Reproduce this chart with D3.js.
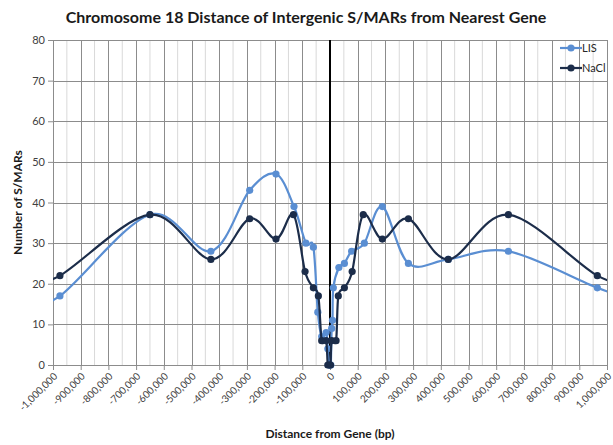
<!DOCTYPE html>
<html><head><meta charset="utf-8">
<script src="https://cdn.jsdelivr.net/npm/d3@7"></script>
<style>body{margin:0;background:#fff}svg{display:block}</style>
</head><body>
<svg id="c" width="613" height="445"></svg>
<script>
const seriesNames = ["LIS", "NaCl"];
const lisX = [-1100000,-975000,-650000,-430000,-290000,-195000,-130000,-87000,-60000,-44000,-30000,-14000,-8000,-3000,0,3000,6000,9000,12000,32000,52000,78000,124000,189000,283000,427000,644000,965000,1100000];
const lisY = [15,17,37,28,43,47,39,30,29,13,7,8,4,0,0,0,9,11,19,24,25,28,30,39,25,26,28,19,16];
const naclX = [-1100000,-975000,-650000,-430000,-290000,-195000,-132000,-90000,-60000,-42000,-30000,-14000,-8000,-2000,2000,6000,22000,30000,52000,80000,120000,189000,283000,427000,644000,965000,1100000];
const naclY = [20,22,37,26,36,31,37,23,19,17,6,6,0,0,0,6,6,17,19,23,37,31,36,26,37,22,20];
const xTicks = [-1000000,-900000,-800000,-700000,-600000,-500000,-400000,-300000,-200000,-100000,0,100000,200000,300000,400000,500000,600000,700000,800000,900000,1000000];
const xTickLabels = ["-1,000,000","-900,000","-800,000","-700,000","-600,000","-500,000","-400,000","-300,000","-200,000","-100,000","0","100,000","200,000","300,000","400,000","500,000","600,000","700,000","800,000","900,000","1,000,000"];
const yTicks = [0,10,20,30,40,50,60,70,80];
const colors = {LIS:"#5A8ED2", NaCl:"#1C2D4A"};

const W=613,H=445, m={l:53,r:6,t:40,b:80};
const svg=d3.select("#c");
const x=d3.scaleLinear().domain([-1000000,1000000]).range([m.l,W-m.r]);
const y=d3.scaleLinear().domain([0,80]).range([H-m.b,m.t]);
const font="Lato, 'Open Sans', sans-serif";

// minor vertical grid
const minor=d3.range(-950000,1000000,100000);
svg.append("g").selectAll("line").data(minor).join("line")
  .attr("x1",d=>x(d)).attr("x2",d=>x(d)).attr("y1",y(0)).attr("y2",y(80))
  .attr("stroke","#D9D9D9").attr("stroke-width",1);
// major vertical grid
svg.append("g").selectAll("line").data(xTicks).join("line")
  .attr("x1",d=>Math.round(x(d))+0.5).attr("x2",d=>Math.round(x(d))+0.5).attr("y1",y(0)).attr("y2",y(80))
  .attr("stroke","#8C8C8C").attr("stroke-width",1);
// horizontal grid
svg.append("g").selectAll("line").data(yTicks).join("line")
  .attr("x1",x(-1000000)).attr("x2",x(1000000)).attr("y1",d=>Math.round(y(d))+0.5).attr("y2",d=>Math.round(y(d))+0.5)
  .attr("stroke","#8C8C8C").attr("stroke-width",1);

// axes
const xa=svg.append("g").attr("transform",`translate(0,${y(0)})`)
  .call(d3.axisBottom(x).tickValues(xTicks).tickSize(5).tickFormat(""));
xa.select(".domain").attr("stroke","#8C8C8C");
xa.selectAll(".tick line").attr("stroke","#8C8C8C");
svg.append("g").selectAll("text").data(xTicks).join("text")
  .attr("transform",(d)=>`translate(${x(d)+5},${y(0)+12}) rotate(-45)`)
  .attr("text-anchor","end").attr("font-family",font).attr("font-size",10).attr("fill","#404040")
  .text((d,i)=>xTickLabels[i]);

const ya=svg.append("g").attr("transform",`translate(${x(-1000000)},0)`)
  .call(d3.axisLeft(y).tickValues(yTicks).tickSize(5));
ya.select(".domain").attr("stroke","#8C8C8C");
ya.selectAll(".tick line").attr("stroke","#8C8C8C");
ya.selectAll(".tick text").attr("font-family",font).attr("font-size",11).attr("fill","#404040").attr("x",-8);

// zero line
svg.append("line").attr("x1",x(0)).attr("x2",x(0)).attr("y1",y(0)).attr("y2",y(80))
  .attr("stroke","#000").attr("stroke-width",2);

// clip
svg.append("clipPath").attr("id","clip").append("rect")
  .attr("x",x(-1000000)).attr("y",m.t-10).attr("width",x(1000000)-x(-1000000)).attr("height",y(0)-m.t+20);

const line=d3.line().x(d=>x(d[0])).y(d=>y(d[1])).curve(d3.curveCardinal.tension(0));
const series=[{name:"LIS",xs:lisX,ys:lisY},{name:"NaCl",xs:naclX,ys:naclY}];
const plot=svg.append("g").attr("clip-path","url(#clip)");
series.forEach(s=>{
  const pts=s.xs.map((v,i)=>[v,s.ys[i]]);
  plot.append("path").datum(pts).attr("d",line).attr("fill","none")
    .attr("stroke",colors[s.name]).attr("stroke-width",2.2);
  plot.append("g").selectAll("circle").data(pts).join("circle")
    .attr("cx",d=>x(d[0])).attr("cy",d=>y(d[1])).attr("r",3.6).attr("fill",colors[s.name]);
});

// legend
const lg=svg.append("g");
series.forEach((s,i)=>{
  const yy=48+i*20;
  lg.append("line").attr("x1",560).attr("x2",582).attr("y1",yy).attr("y2",yy).attr("stroke",colors[s.name]).attr("stroke-width",2.2);
  lg.append("circle").attr("cx",571).attr("cy",yy).attr("r",3.6).attr("fill",colors[s.name]);
  lg.append("text").attr("x",582).attr("y",yy+4).attr("font-family",font).attr("font-size",11).attr("fill","#262626").text(s.name);
});

// titles
svg.append("text").attr("x",306).attr("y",23).attr("text-anchor","middle").attr("font-family",font)
  .attr("font-weight","bold").attr("font-size",16).attr("fill","#1a1a1a")
  .text("Chromosome 18 Distance of Intergenic S/MARs from Nearest Gene");
svg.append("text").attr("transform",`translate(22,${(y(0)+y(80))/2}) rotate(-90)`).attr("text-anchor","middle")
  .attr("font-family",font).attr("font-weight","bold").attr("font-size",12).attr("fill","#1a1a1a").text("Number of S/MARs");
svg.append("text").attr("x",330).attr("y",438).attr("text-anchor","middle")
  .attr("font-family",font).attr("font-weight","bold").attr("font-size",12).attr("fill","#1a1a1a").text("Distance from Gene (bp)");
</script>
</body></html>
